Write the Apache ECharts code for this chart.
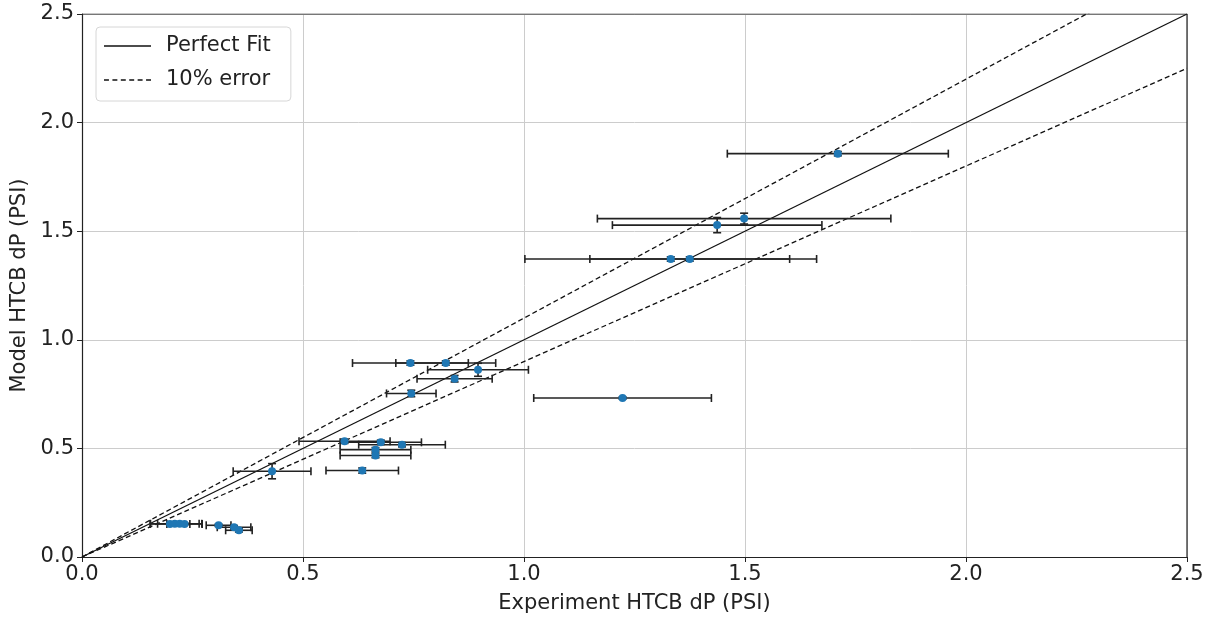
<!DOCTYPE html>
<html>
<head>
<meta charset="utf-8">
<script src="https://cdn.jsdelivr.net/npm/echarts@6/dist/echarts.min.js"></script>
<style>
  * { margin: 0; padding: 0; }
  body { background: #fff; }
  #chart { width: 1211px; height: 624px; }
</style>
</head>
<body>
<div id="chart"></div>
<script>
  // experiment values (x), model values (y) and their error bars
  var expDP = [1.710, 1.498, 1.437, 1.332, 1.375, 1.223, 0.743, 0.823, 0.896, 0.843, 0.745,
    0.430, 0.634, 0.594, 0.676, 0.724, 0.664, 0.664, 0.199, 0.210, 0.221, 0.232, 0.309, 0.344, 0.355]
  var modelDP = [1.857, 1.558, 1.528, 1.372, 1.372, 0.732, 0.893, 0.893, 0.862, 0.821, 0.753,
    0.395, 0.398, 0.533, 0.528, 0.517, 0.494, 0.467, 0.152, 0.153, 0.153, 0.152, 0.146, 0.137, 0.123]
  var expErr = [0.250, 0.332, 0.237, 0.330, 0.226, 0.201, 0.131, 0.113, 0.114, 0.085, 0.056,
    0.088, 0.082, 0.103, 0.092, 0.098, 0.080, 0.080, 0.045, 0.055, 0.050, 0.040, 0.028, 0.038, 0.030]
  var modelErr = [0.010, 0.025, 0.035, 0.010, 0.010, 0.005, 0.010, 0.010, 0.030, 0.015, 0.015,
    0.035, 0.012, 0.010, 0.010, 0.010, 0.010, 0.010, 0.005, 0.005, 0.005, 0.005, 0.005, 0.008, 0.008]

  // reference lines
  var lineX = [0, 2.5]
  var fitY = [0, 2.5]
  var upperY = [0, 2.75]
  var lowerY = [0, 2.25]

  var font = 'DejaVu Sans'

  // legend samples: a solid stroke and a dashed one
  var solidIcon = 'path://M0,0H48V1.4H0Z'
  var dashIcon = 'path://M0,0H5V1.4H0Z M8.5,0H13.5V1.4H8.5Z M17,0H22V1.4H17Z M25.5,0H30.5V1.4H25.5Z M34,0H39V1.4H34Z M42.5,0H47.5V1.4H42.5Z'

  function pairs(xs, ys) {
    return xs.map(function (x, i) { return [x, ys[i]] })
  }

  var errData = expDP.map(function (x, i) {
    return [x, modelDP[i], expErr[i], modelErr[i]]
  })

  function renderErr(params, api) {
    var x = api.value(0), y = api.value(1), ex = api.value(2), ey = api.value(3)
    var l = api.coord([x - ex, y]), r = api.coord([x + ex, y])
    var b = api.coord([x, y - ey]), t = api.coord([x, y + ey])
    var c = 4
    var st = {stroke: '#222', lineWidth: 1.6}
    var kids = [
      {type: 'line', shape: {x1: l[0], y1: l[1], x2: r[0], y2: r[1]}, style: st},
      {type: 'line', shape: {x1: l[0], y1: l[1] - c, x2: l[0], y2: l[1] + c}, style: st},
      {type: 'line', shape: {x1: r[0], y1: r[1] - c, x2: r[0], y2: r[1] + c}, style: st},
      {type: 'line', shape: {x1: b[0], y1: b[1], x2: t[0], y2: t[1]}, style: st},
      {type: 'line', shape: {x1: b[0] - c, y1: b[1], x2: b[0] + c, y2: b[1]}, style: st},
      {type: 'line', shape: {x1: t[0] - c, y1: t[1], x2: t[0] + c, y2: t[1]}, style: st}
    ]
    return {type: 'group', children: kids}
  }

  var chart = echarts.init(document.getElementById('chart'))
  chart.setOption({
    animation: false,
    textStyle: {fontFamily: font},
    grid: {left: 82, right: 24, top: 14, bottom: 67},
    legend: {
      left: 96,
      top: 27,
      orient: 'vertical',
      itemWidth: 47,
      itemHeight: 2,
      itemGap: 12,
      padding: [8, 20, 10, 8],
      backgroundColor: '#fff',
      borderColor: '#d6d6d6',
      borderWidth: 1,
      borderRadius: 4,
      textStyle: {fontFamily: font, fontSize: 21, color: '#222', padding: [0, 0, 0, 10], lineHeight: 22},
      data: [
        {name: 'Perfect Fit', icon: solidIcon},
        {name: '10% error', icon: dashIcon}
      ]
    },
    xAxis: {
      type: 'value',
      min: 0,
      max: 2.5,
      interval: 0.5,
      name: 'Experiment HTCB dP (PSI)',
      nameLocation: 'middle',
      nameGap: 36,
      nameTextStyle: {fontFamily: font, fontSize: 21, color: '#222'},
      axisLine: {onZero: false, lineStyle: {color: '#222', width: 1.2}},
      axisTick: {show: true, length: 5, lineStyle: {color: '#222'}},
      axisLabel: {fontFamily: font, fontSize: 21, color: '#222', margin: 7,
        formatter: function (v) { return v.toFixed(1) }},
      splitLine: {show: true, lineStyle: {color: '#cccccc', width: 1}}
    },
    yAxis: {
      type: 'value',
      min: 0,
      max: 2.5,
      interval: 0.5,
      name: 'Model HTCB dP (PSI)',
      nameLocation: 'middle',
      nameGap: 52,
      nameTextStyle: {fontFamily: font, fontSize: 21, color: '#222'},
      axisLine: {onZero: false, lineStyle: {color: '#222', width: 1.2}},
      axisTick: {show: true, length: 5, lineStyle: {color: '#222'}},
      axisLabel: {fontFamily: font, fontSize: 21, color: '#222', margin: 8,
        formatter: function (v) { return v.toFixed(1) }},
      splitLine: {show: true, lineStyle: {color: '#cccccc', width: 1}}
    },
    series: [
      {
        name: 'Perfect Fit',
        type: 'line',
        data: pairs(lineX, fitY),
        symbol: 'none',
        clip: true,
        lineStyle: {color: '#111', width: 1.3},
        itemStyle: {color: '#111'},
        z: 3
      },
      {
        name: '10% error',
        type: 'line',
        data: pairs(lineX, upperY),
        symbol: 'none',
        clip: true,
        lineStyle: {color: '#111', width: 1.3, type: [5, 3]},
        itemStyle: {color: '#111'},
        z: 3
      },
      {
        name: '10% error',
        type: 'line',
        data: pairs(lineX, lowerY),
        symbol: 'none',
        clip: true,
        lineStyle: {color: '#111', width: 1.3, type: [5, 3]},
        itemStyle: {color: '#111'},
        z: 3
      },
      {
        name: 'err',
        type: 'custom',
        renderItem: renderErr,
        data: errData,
        clip: true,
        z: 4
      },
      {
        name: 'points',
        type: 'scatter',
        data: pairs(expDP, modelDP),
        symbolSize: 8,
        itemStyle: {color: '#1f77b4', opacity: 1},
        z: 5
      },
      {
        // top and right frame
        name: 'frame',
        type: 'line',
        data: [[0, 2.5], [2.5, 2.5], [2.5, 0]],
        symbol: 'none',
        lineStyle: {color: '#222', width: 1.2},
        silent: true,
        z: 6
      }
    ]
  })
</script>
</body>
</html>
